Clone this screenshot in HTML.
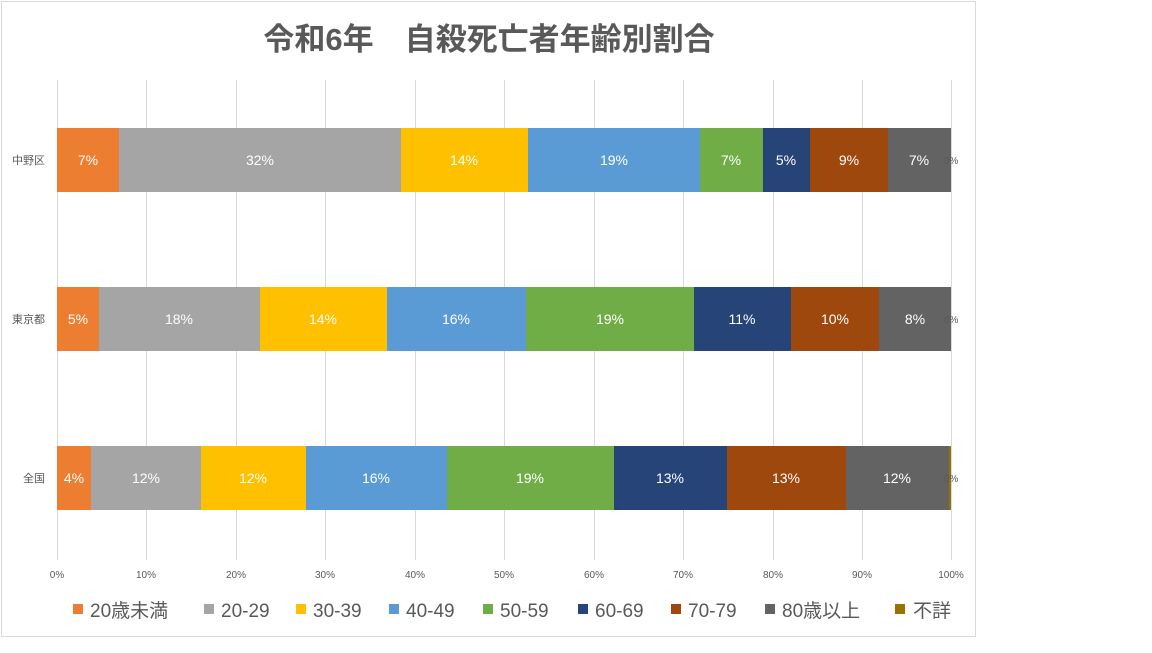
<!DOCTYPE html>
<html><head><meta charset="utf-8"><style>
body{margin:0;background:#fff;width:1152px;height:648px;overflow:hidden}
svg text{font-family:"Liberation Sans","Noto Sans CJK JP",sans-serif}
</style></head><body>
<svg width="1152" height="648" xmlns="http://www.w3.org/2000/svg">
<rect x="1.5" y="1.5" width="974" height="635" fill="#fff" stroke="#d9d9d9"/>
<text x="489" y="50" text-anchor="middle" font-size="31" font-weight="bold" fill="#595959">令和6年　自殺死亡者年齢別割合</text>
<g stroke="#d9d9d9" stroke-width="1">
<line x1="57.5" y1="80" x2="57.5" y2="560"/><line x1="146.5" y1="80" x2="146.5" y2="560"/><line x1="236.5" y1="80" x2="236.5" y2="560"/><line x1="325.5" y1="80" x2="325.5" y2="560"/><line x1="415.5" y1="80" x2="415.5" y2="560"/><line x1="504.5" y1="80" x2="504.5" y2="560"/><line x1="594.5" y1="80" x2="594.5" y2="560"/><line x1="683.5" y1="80" x2="683.5" y2="560"/><line x1="773.5" y1="80" x2="773.5" y2="560"/><line x1="862.5" y1="80" x2="862.5" y2="560"/><line x1="951.5" y1="80" x2="951.5" y2="560"/>
</g>
<g font-size="10" fill="#595959" text-anchor="middle">
<text x="57" y="578">0%</text><text x="146" y="578">10%</text><text x="236" y="578">20%</text><text x="325" y="578">30%</text><text x="415" y="578">40%</text><text x="504" y="578">50%</text><text x="594" y="578">60%</text><text x="683" y="578">70%</text><text x="773" y="578">80%</text><text x="862" y="578">90%</text><text x="951" y="578">100%</text>
</g>
<g font-size="11" fill="#595959" text-anchor="end">
<text x="45" y="164">中野区</text><text x="45" y="323">東京都</text><text x="45" y="482">全国</text>
</g>
<g>
<rect x="57" y="128" width="62" height="64" fill="#ed7d31"/>
<rect x="119" y="128" width="282" height="64" fill="#a5a5a5"/>
<rect x="401" y="128" width="127" height="64" fill="#ffc000"/>
<rect x="528" y="128" width="172" height="64" fill="#5b9bd5"/>
<rect x="700" y="128" width="63" height="64" fill="#70ad47"/>
<rect x="763" y="128" width="47" height="64" fill="#264478"/>
<rect x="810" y="128" width="78" height="64" fill="#9e480e"/>
<rect x="888" y="128" width="63" height="64" fill="#636363"/>
</g>
<g>
<rect x="57" y="287" width="42" height="64" fill="#ed7d31"/>
<rect x="99" y="287" width="161" height="64" fill="#a5a5a5"/>
<rect x="260" y="287" width="127" height="64" fill="#ffc000"/>
<rect x="387" y="287" width="139" height="64" fill="#5b9bd5"/>
<rect x="526" y="287" width="168" height="64" fill="#70ad47"/>
<rect x="694" y="287" width="97" height="64" fill="#264478"/>
<rect x="791" y="287" width="88" height="64" fill="#9e480e"/>
<rect x="879" y="287" width="72" height="64" fill="#636363"/>
</g>
<g>
<rect x="57" y="446" width="34" height="64" fill="#ed7d31"/>
<rect x="91" y="446" width="110" height="64" fill="#a5a5a5"/>
<rect x="201" y="446" width="105" height="64" fill="#ffc000"/>
<rect x="306" y="446" width="141" height="64" fill="#5b9bd5"/>
<rect x="447" y="446" width="167" height="64" fill="#70ad47"/>
<rect x="614" y="446" width="113" height="64" fill="#264478"/>
<rect x="727" y="446" width="119" height="64" fill="#9e480e"/>
<rect x="846" y="446" width="103" height="64" fill="#636363"/>
<rect x="949" y="446" width="2" height="64" fill="#997300"/>
</g>
<g font-size="14" fill="#fff" text-anchor="middle">
<text x="88" y="165">7%</text><text x="260" y="165">32%</text><text x="464" y="165">14%</text><text x="614" y="165">19%</text><text x="731" y="165">7%</text><text x="786" y="165">5%</text><text x="849" y="165">9%</text><text x="919" y="165">7%</text>
<text x="78" y="324">5%</text><text x="179" y="324">18%</text><text x="323" y="324">14%</text><text x="456" y="324">16%</text><text x="610" y="324">19%</text><text x="742" y="324">11%</text><text x="835" y="324">10%</text><text x="915" y="324">8%</text>
<text x="74" y="483">4%</text><text x="146" y="483">12%</text><text x="253" y="483">12%</text><text x="376" y="483">16%</text><text x="530" y="483">19%</text><text x="670" y="483">13%</text><text x="786" y="483">13%</text><text x="897" y="483">12%</text>
</g>
<g font-size="10" fill="#595959">
<text x="944" y="164">0%</text><text x="944" y="323">0%</text><text x="944" y="482">0%</text>
</g>
<g font-size="19" fill="#595959">
<rect x="73" y="604" width="10" height="10" fill="#ed7d31"/><text x="90" y="617">20歳未満</text>
<rect x="204" y="604" width="10" height="10" fill="#a5a5a5"/><text x="221" y="617">20-29</text>
<rect x="296" y="604" width="10" height="10" fill="#ffc000"/><text x="313" y="617">30-39</text>
<rect x="389" y="604" width="10" height="10" fill="#5b9bd5"/><text x="406" y="617">40-49</text>
<rect x="483" y="604" width="10" height="10" fill="#70ad47"/><text x="500" y="617">50-59</text>
<rect x="578" y="604" width="10" height="10" fill="#264478"/><text x="595" y="617">60-69</text>
<rect x="671" y="604" width="10" height="10" fill="#9e480e"/><text x="688" y="617">70-79</text>
<rect x="765" y="604" width="10" height="10" fill="#636363"/><text x="782" y="617">80歳以上</text>
<rect x="895" y="604" width="10" height="10" fill="#997300"/><text x="913" y="617">不詳</text>
</g>
</svg>
</body></html>
